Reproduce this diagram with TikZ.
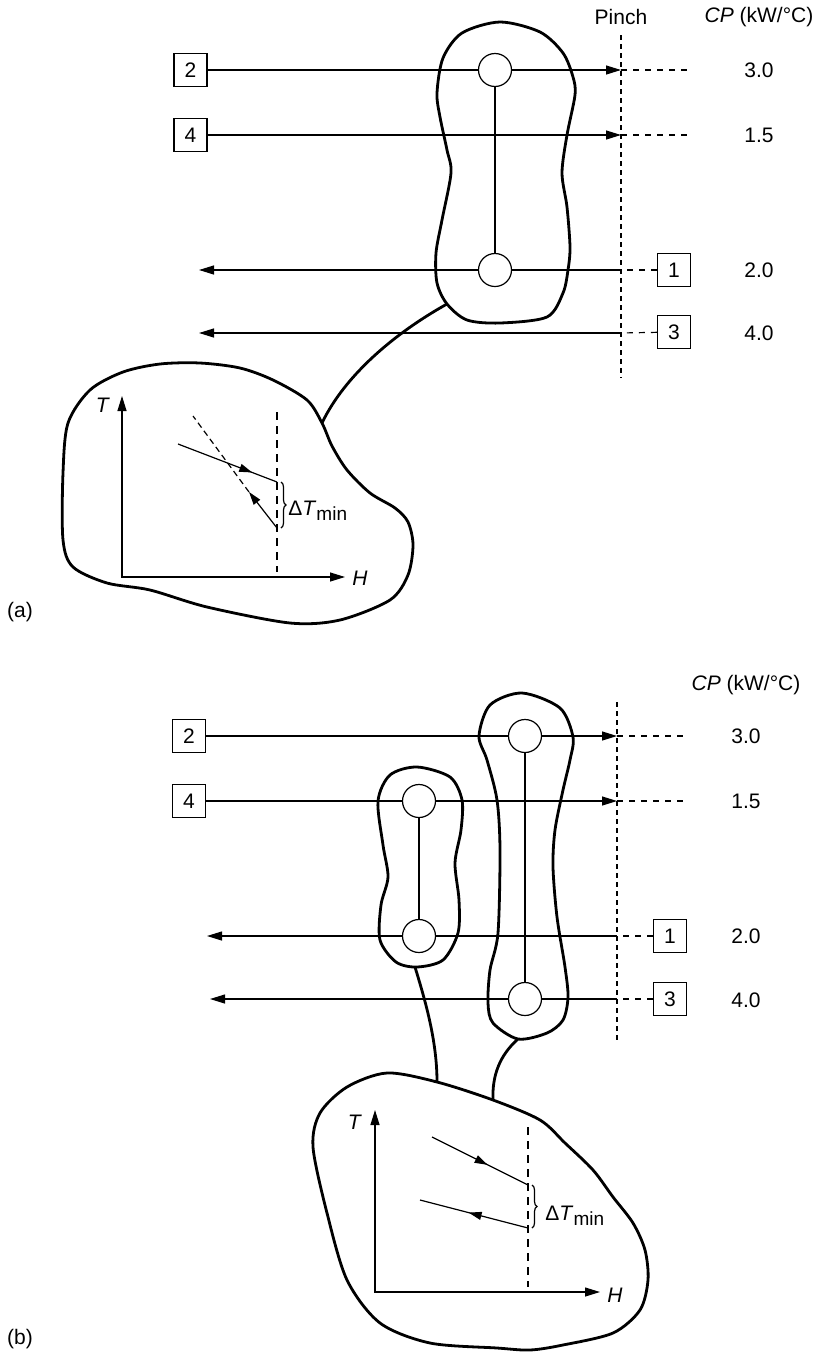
\documentclass[tikz,border=0pt]{standalone}
\usepackage{fontspec}
\setmainfont{Liberation Sans}
\usetikzlibrary{arrows.meta,decorations.markings,decorations.pathreplacing}
\tikzset{
  stream/.style={line width=0.6pt},
  tipend/.style={-{Triangle[length=7.5pt,width=4.5pt]}},
  tail/.style={line width=0.6pt,dash pattern=on 3pt off 3pt},
  pinchline/.style={line width=0.6pt,dash pattern=on 2.5pt off 2pt},
  guideline/.style={line width=0.6pt,dash pattern=on 4pt off 3pt},
  streambox/.style={draw,line width=0.6pt,minimum size=16.5pt,inner sep=0pt},
  match/.style={draw,circle,line width=0.6pt,minimum size=16.5pt,inner sep=0pt},
  blob/.style={line width=1.4pt},
  midarrow/.style={postaction={decorate},decoration={markings,
      mark=at position #1 with {\arrow{Triangle[length=6.5pt,width=4pt]}}}},
  dtbrace/.style={line width=0.6pt,decorate,decoration={brace,amplitude=2.5pt}}
}
\newcommand{\dtmin}{Δ\textit{T}\raisebox{-0.45ex}{\fontsize{9.5}{10}\selectfont min}}

\begin{document}
\begin{tikzpicture}[x=0.5pt,y=-0.5pt,font=\fontsize{10.5}{12}\selectfont]
\useasboundingbox (0,0) rectangle (818,1355);

%%% (a) one exchanger across streams 2 and 1
\node[streambox] (box2a) at (190.5,70) {2};
\node[streambox] (box4a) at (190.5,135) {4};
\node[streambox] (box1a) at (674,270) {1};
\node[streambox] (box3a) at (674,332) {3};
\node[match] (circ2a) at (495,70) {};
\node[match] (circ1a) at (495,270) {};
\coordinate (pin2a) at (621,70);  \coordinate (end2a) at (690,70);
\coordinate (pin4a) at (621,135); \coordinate (end4a) at (690,135);
\coordinate (pin1a) at (621,270); \coordinate (tip1a) at (199,270);
\coordinate (pin3a) at (621,333); \coordinate (tip3a) at (199,333);

\node (pinchA) at (621,17) {Pinch};
\node (cpA) at (759,17) {\textit{CP} (kW/°C)};
\node (cp2a) at (759,70) {3.0};
\node (cp4a) at (759,135) {1.5};
\node (cp1a) at (759,270) {2.0};
\node (cp3a) at (759,333) {4.0};

\draw[pinchline] (621,35) -- (621,378); % pinch
\draw[stream] (box2a) -- (circ2a); % hot 2
\draw[stream,tipend] (circ2a) -- (pin2a);
\draw[tail] (pin2a) -- (end2a);
\draw[stream,tipend] (box4a) -- (pin4a); % hot 4
\draw[tail] (pin4a) -- (end4a);
\draw[tail] (box1a) -- (pin1a); % cold 1
\draw[stream] (pin1a) -- (circ1a);
\draw[stream,tipend] (circ1a) -- (tip1a);
\draw[tail] (box3a) -- (pin3a); % cold 3
\draw[stream,tipend] (pin3a) -- (tip3a);
\draw[stream] (circ2a) -- (circ1a); % match

\draw[blob] plot[smooth cycle] coordinates {(500,22) (540,32) (563,53) (573,77) (575,95)
  (567,135) (562,173) (567,207) (570,247) (568,270) (563,293) (547,317) (500,323)
  (467,320) (447,304) (437,283) (436,253) (442,220) (451,173) (447,150) (440,117)
  (437,93) (443,58) (462,33)};
\coordinate (neckA) at (447,304);
\coordinate (bagA) at (322,423);
\draw[blob] (neckA) .. controls (395,333) and (345,375) .. (bagA);
\draw[blob] plot[smooth cycle] coordinates {(200,363) (240,368) (273,380) (307,400)
  (322,423) (332,446) (347,470) (370,493) (395,508) (408,522) (413,545) (408,575)
  (390,600) (340,620) (290,623) (207,607) (150,590) (107,583) (73,567) (63,540)
  (63,473) (68,423) (90,390) (123,372) (160,364)};

% T-H sketch
\coordinate (origA) at (122,577);
\coordinate (tA) at (122,396);
\coordinate (hA) at (345,577);
\draw[stream,{Triangle[length=7.5pt,width=4.5pt]}-{Triangle[length=7.5pt,width=4.5pt]}] (tA) -- (origA) -- (hA);
\node (labTA) at (103,405) {\textit{T}};
\node (labHA) at (360,578) {\textit{H}};
\draw[guideline] (277,412) -- (277,572);
\coordinate (hotA) at (178,444); \coordinate (hotEndA) at (277,482);
\coordinate (coldEndA) at (277,528); \coordinate (coldTipA) at (249,492);
\coordinate (coldFarA) at (193,416);
\draw[stream,midarrow=0.75] (hotA) -- (hotEndA);
\draw[stream,-{Triangle[length=6.5pt,width=4pt]}] (coldEndA) -- (coldTipA);
\draw[line width=0.6pt,dash pattern=on 3pt off 2pt] (coldTipA) -- (coldFarA);
\draw[dtbrace] (281,482) -- (281,528);
\node[anchor=west,inner sep=0pt] (dtA) at (288,511) {\dtmin};
\node (tagA) at (20,612) {(a)};

%%% (b) two exchangers
\node[streambox] (box2b) at (189,736) {2};
\node[streambox] (box4b) at (189,801) {4};
\node[streambox] (box1b) at (670,936) {1};
\node[streambox] (box3b) at (670,999) {3};
\node[match] (circ4b) at (419,801) {};
\node[match] (circ1b) at (419,936) {};
\node[match] (circ2b) at (525,736) {};
\node[match] (circ3b) at (525,999) {};
\coordinate (pin2b) at (617,736);  \coordinate (end2b) at (687,736);
\coordinate (pin4b) at (617,801);  \coordinate (end4b) at (687,801);
\coordinate (pin1b) at (617,936);  \coordinate (tip1b) at (207,936);
\coordinate (pin3b) at (617,999);  \coordinate (tip3b) at (210,999);

\node (cpB) at (746,685) {\textit{CP} (kW/°C)};
\node (cp2b) at (746,736) {3.0};
\node (cp4b) at (746,801) {1.5};
\node (cp1b) at (746,936) {2.0};
\node (cp3b) at (746,1000) {4.0};

\draw[pinchline] (617,702) -- (617,1043); % pinch
\draw[stream] (box2b) -- (circ2b); % hot 2
\draw[stream,tipend] (circ2b) -- (pin2b);
\draw[tail] (pin2b) -- (end2b);
\draw[stream] (box4b) -- (circ4b); % hot 4
\draw[stream,tipend] (circ4b) -- (pin4b);
\draw[tail] (pin4b) -- (end4b);
\draw[tail] (box1b) -- (pin1b); % cold 1
\draw[stream] (pin1b) -- (circ1b);
\draw[stream,tipend] (circ1b) -- (tip1b);
\draw[tail] (box3b) -- (pin3b); % cold 3
\draw[stream] (pin3b) -- (circ3b);
\draw[stream,tipend] (circ3b) -- (tip3b);
\draw[stream] (circ4b) -- (circ1b); % matches
\draw[stream] (circ2b) -- (circ3b);

\draw[blob] plot[smooth cycle] coordinates {(417,767) (450,777) (462,800) (461,830)
  (455,863) (459,900) (458,933) (443,960) (417,967) (396,962) (380,940) (381,905)
  (388,877) (383,845) (378,801) (390,775)};
\draw[blob] plot[smooth cycle] coordinates {(522,693) (560,708) (573,737) (570,760)
  (563,790) (555,830) (553,867) (557,917) (565,967) (568,997) (563,1020) (547,1033)
  (518,1039) (493,1023) (488,1003) (490,970) (498,933) (500,850) (497,800) (487,760)
  (479,736) (490,705)};
\coordinate (neckL) at (415,967); \coordinate (bagL) at (437,1082);
\coordinate (neckR) at (518,1039); \coordinate (bagR) at (493,1100);
\draw[blob] (neckL) .. controls (425,1000) and (437,1040) .. (bagL);
\draw[blob] (neckR) .. controls (500,1055) and (492,1075) .. (bagR);
\draw[blob] plot[smooth cycle] coordinates {(387,1073) (437,1082) (493,1100) (540,1120)
  (565,1143) (593,1170) (613,1197) (633,1223) (645,1250) (648,1280) (640,1310)
  (613,1333) (563,1345) (530,1350) (497,1348) (430,1343) (380,1323) (347,1280)
  (327,1213) (313,1147) (320,1113) (347,1087)};

% T-H sketch
\coordinate (origB) at (375,1292);
\coordinate (tB) at (375,1110);
\coordinate (hB) at (600,1292);
\draw[stream,{Triangle[length=7.5pt,width=4.5pt]}-{Triangle[length=7.5pt,width=4.5pt]}] (tB) -- (origB) -- (hB);
\node (labTB) at (355,1122) {\textit{T}};
\node (labHB) at (615,1295) {\textit{H}};
\draw[guideline] (528,1127) -- (528,1287);
\coordinate (hotB) at (432,1137); \coordinate (hotEndB) at (528,1185);
\coordinate (coldEndB) at (528,1228); \coordinate (coldB) at (420,1200);
\draw[stream,midarrow=0.58] (hotB) -- (hotEndB);
\draw[stream,midarrow=0.55] (coldEndB) -- (coldB);
\draw[dtbrace] (532,1185) -- (532,1228);
\node[anchor=west,inner sep=0pt] (dtB) at (545,1216) {\dtmin};
\node (tagB) at (20,1339) {(b)};
\end{tikzpicture}
\end{document}
